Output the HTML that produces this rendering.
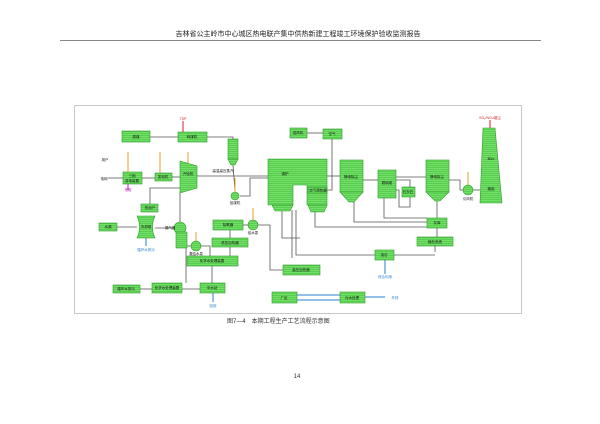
<!DOCTYPE html>
<html><head><meta charset="utf-8"><style>
html,body{margin:0;padding:0;background:#fff;width:600px;height:424px;overflow:hidden}
svg{display:block}
text{font-family:"Liberation Sans","Noto Sans CJK SC",sans-serif}
</style></head><body>
<svg width="600" height="424" viewBox="0 0 600 424" xmlns="http://www.w3.org/2000/svg">
<defs>
<pattern id="st" width="4" height="2" patternUnits="userSpaceOnUse">
<rect width="4" height="2" fill="#72e066"/><rect y="1.3" width="4" height="0.7" fill="#4cc545"/>
</pattern>
</defs>
<text x="298" y="36" font-size="7" text-anchor="middle" font-family="Liberation Serif,'Noto Serif CJK SC',serif" fill="#222">吉林省公主岭市中心城区热电联产集中供热新建工程竣工环境保护验收监测报告</text>
<line x1="60" y1="40.5" x2="541" y2="40.5" stroke="#888" stroke-width="1"/>
<rect x="74.5" y="105.5" width="447" height="208" fill="#fff" stroke="#bbb" stroke-width="0.8"/>

<g stroke="#555" stroke-width="0.8" fill="none">
<polyline points="150,137 178,137"/>
<polyline points="207,137 233,137 233,140"/>
<line x1="233" y1="165" x2="235" y2="191"/>
<polyline points="240,196 250,196 250,178 268,178"/>
<line x1="197" y1="176" x2="268" y2="176"/>
<line x1="142" y1="178" x2="155" y2="178"/>
<line x1="172" y1="177" x2="180" y2="177"/>
<line x1="108" y1="178" x2="123" y2="178"/>
<polyline points="180,188 150,188 150,204"/>
<line x1="180" y1="193" x2="180" y2="222"/>
<line x1="117" y1="227" x2="137" y2="227"/>
<line x1="155" y1="228" x2="174" y2="228"/>
<polyline points="187,246 191,246"/>
<polyline points="201,246 210,246 210,256"/>
<line x1="243" y1="225" x2="248" y2="225"/>
<polyline points="258,225 270,225 270,270 283,270"/>
<line x1="230" y1="230" x2="230" y2="238"/>
<line x1="230" y1="247" x2="230" y2="256"/>
<line x1="212" y1="266" x2="212" y2="283"/>
<polyline points="186,248 186,283"/>
<line x1="140" y1="289" x2="152" y2="289"/>
<line x1="182" y1="289" x2="200" y2="289"/>
<line x1="307" y1="133" x2="323" y2="133"/>
<polyline points="342,134 332,134 332,190 327,190"/>
<line x1="327" y1="176" x2="340" y2="176"/>
<line x1="363" y1="180" x2="378" y2="180"/>
<polyline points="396,180 410,180 410,187"/>
<polyline points="396,190 399,190 399,207 410,207 410,197"/>
<line x1="396" y1="177" x2="426" y2="177"/>
<polyline points="449,180 460,180 460,190 463,190"/>
<line x1="473" y1="190" x2="480" y2="190"/>
<polyline points="354,202 354,222 427,222"/>
<polyline points="384,198 384,218 427,218"/>
<line x1="437" y1="201" x2="437" y2="218"/>
<line x1="437" y1="228" x2="437" y2="237"/>
<polyline points="315,211 315,227 427,227"/>
<polyline points="296,210 296,255 375,255"/>
<line x1="435" y1="246" x2="435" y2="252"/>
<line x1="394" y1="255" x2="435" y2="255"/>
<polyline points="282,200 282,238 300,238"/>
<line x1="292" y1="210" x2="292" y2="258"/>
</g>

<g fill="url(#st)" stroke="#2f9b2c" stroke-width="0.6">
<rect x="122" y="131" width="28" height="11"/>
<rect x="178" y="132" width="29" height="10"/>
<rect x="228" y="139" width="10" height="20"/>
<polygon points="228,159 238,159 235,165 231,165"/>
<rect x="155" y="173" width="17" height="8"/>
<rect x="123" y="172" width="19" height="12"/>
<polygon points="180,161 197,166 197,188 180,193"/>
<rect x="141" y="204" width="17" height="8"/>
<path d="M137,216 L155,216 Q150,227 155,238 L137,238 Q142,227 137,216Z"/>
<rect x="99" y="223" width="18" height="8"/>
<circle cx="180" cy="228" r="6"/>
<rect x="176" y="232" width="11" height="16"/>
<circle cx="196" cy="246" r="5"/>
<circle cx="235" cy="196" r="4"/>
<rect x="213" y="220" width="30" height="10"/>
<circle cx="253" cy="225" r="5"/>
<rect x="212" y="238" width="36" height="9"/>
<rect x="187" y="256" width="51" height="10"/>
<rect x="113" y="285" width="27" height="8"/>
<rect x="152" y="283" width="30" height="10"/>
<rect x="200" y="283" width="25" height="10"/>
<rect x="283" y="265" width="37" height="10"/>
<rect x="290" y="128" width="17" height="10"/>
<rect x="323" y="129" width="19" height="10"/>
<path d="M268,159 H327 V205 H307 V185 H293 V205 H268 Z"/>
<polygon points="272,205 293,205 290,211 275,211"/>
<rect x="308" y="187" width="19" height="6"/>
<polygon points="308,205 327,205 324,212 311,212"/>
<rect x="340" y="160" width="23" height="32"/>
<polygon points="340,192 363,192 354,202 349,202"/>
<rect x="378" y="170" width="18" height="28"/>
<rect x="402" y="187" width="13" height="10"/>
<rect x="426" y="160" width="23" height="32"/>
<polygon points="426,192 449,192 440,201 435,201"/>
<circle cx="468" cy="190" r="5"/>
<polygon points="483,128 495,128 502,203 480,203"/>
<rect x="427" y="218" width="20" height="10"/>
<rect x="417" y="237" width="36" height="9"/>
<rect x="375" y="250" width="19" height="10"/>
<rect x="340" y="292" width="25" height="11"/>
<rect x="272" y="292" width="25" height="11"/>
</g>

<g stroke="#e8a21a" stroke-width="1" fill="none">
<line x1="128" y1="152" x2="128" y2="172"/><line x1="160" y1="152" x2="160" y2="173"/>
<line x1="188" y1="152" x2="188" y2="163"/><line x1="235" y1="178" x2="235" y2="192"/>
<line x1="253" y1="208" x2="253" y2="220"/><line x1="196" y1="232" x2="196" y2="241"/>
<line x1="468" y1="172" x2="468" y2="185"/>
</g>
<g stroke="#d42020" stroke-width="1"><line x1="183" y1="121" x2="183" y2="132"/><line x1="490" y1="120" x2="490" y2="128"/></g>
<g stroke="#2a7fd0" stroke-width="1" fill="none">
<line x1="146" y1="238" x2="146" y2="246"/><line x1="213" y1="293" x2="213" y2="302"/>
<line x1="385" y1="260" x2="385" y2="274"/><line x1="297" y1="295" x2="340" y2="295"/>
<line x1="297" y1="300" x2="340" y2="300"/><line x1="365" y1="297" x2="385" y2="297"/>
<line x1="128" y1="184" x2="128" y2="190" stroke="#c020c0"/>
</g>

<g font-size="3.5" fill="#111" text-anchor="middle">
<text x="136" y="138">原煤</text><text x="192" y="138">碎煤机</text>
<text x="298" y="134">送风机</text><text x="332" y="135">空气</text>
<text x="285" y="175">锅炉</text><text x="318" y="191.5">空气预热器</text>
<text x="163" y="178">发电机</text><text x="132" y="177">三相</text><text x="132" y="182">变电装置</text>
<text x="188" y="175">汽轮机</text><text x="150" y="209">热用户</text>
<text x="146" y="228">冷却塔</text><text x="108" y="228">水源</text>
<text x="228" y="226">除氧器</text><text x="230" y="244">低压加热器</text>
<text x="212" y="262">化学水处理装置</text><text x="126" y="290">循环水排污</text>
<text x="167" y="289">化学水处理装置</text><text x="212" y="289">中水站</text>
<text x="301" y="271">高压加热器</text><text x="351" y="178">静电除尘</text>
<text x="387" y="184">脱硫塔</text><text x="408" y="193">石灰石</text>
<text x="437" y="178">静电除尘</text><text x="437" y="224">灰库</text>
<text x="435" y="243">输灰系统</text><text x="384" y="256">渣仓</text>
<text x="352" y="299">污水处理</text><text x="284" y="299">厂区</text>
<text x="491" y="160">80m</text><text x="491" y="190">烟囱</text>
<text x="468" y="200">引风机</text><text x="235" y="204">给煤机</text>
<text x="196" y="255">凝结水泵</text><text x="253" y="234">给水泵</text>
<text x="170" y="229">凝汽器</text>
<text x="105" y="161">用户</text><text x="104" y="180">电网</text>
<text x="223" y="172">高温高压蒸汽</text>
</g>
<g font-size="3.5" text-anchor="middle">
<text x="183" y="120" fill="#d42020">TSP</text><text x="490" y="119" fill="#d42020">SO₂/NOₓ/烟尘</text>
<text x="128" y="191" fill="#c020c0">电磁</text>
<text x="146" y="251" fill="#2a7fd0">循环水排污</text><text x="213" y="307" fill="#2a7fd0">回用</text>
<text x="385" y="278" fill="#2a7fd0">综合利用</text><text x="395" y="299" fill="#2a7fd0">外排</text>
</g>

<text x="227" y="323" font-size="6" fill="#333" font-family="Liberation Serif,'Noto Serif CJK SC',serif">图7—4　本期工程生产工艺流程示意图</text>
<text x="297" y="378" font-size="6" fill="#333" text-anchor="middle" font-family="Liberation Serif,serif">14</text>
</svg>
</body></html>
